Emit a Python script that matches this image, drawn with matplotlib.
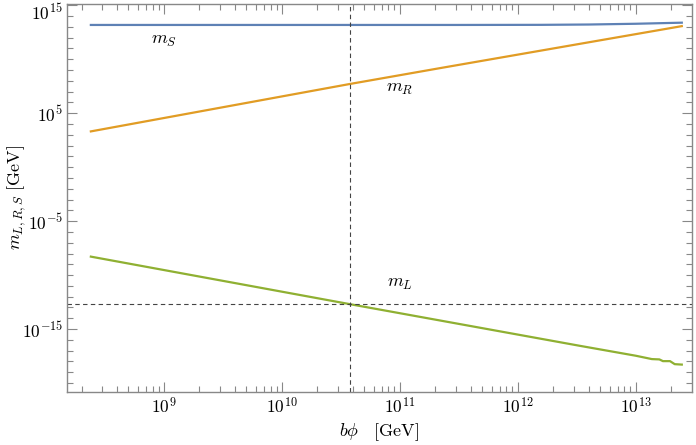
import numpy as np
import matplotlib.pyplot as plt
import matplotlib.transforms as mtransforms
from matplotlib.ticker import LogLocator, FixedLocator, NullFormatter

plt.rcParams['mathtext.fontset'] = 'cm'
plt.rcParams['font.family'] = 'serif'
plt.rcParams['font.serif'] = ['cmr10', 'DejaVu Serif']
plt.rcParams['axes.formatter.use_mathtext'] = True

# values (log10 of b*phi and of the masses)
log_bphi_S = [8.38, 11.5, 12.2, 12.6, 13.0, 13.39]
log_mS = [13.17, 13.17, 13.18, 13.21, 13.28, 13.38]

log_bphi_R = [8.38, 9.64, 10.58, 11.34, 13.39]
log_mR = [3.31, 5.83, 7.71, 9.17, 13.06]

log_bphi_L = [8.38, 10.58, 12.525, 13.0, 13.136, 13.20, 13.23, 13.29, 13.33, 13.39]
log_mL = [-8.29, -12.7, -16.55, -17.47, -17.78, -17.81, -17.97, -17.97, -18.25, -18.29]

bphi_ref = 10 ** 10.58   # vertical dashed line
mL_ref = 10 ** -12.7     # horizontal dashed line

blue = '#5E81B5'
orange = '#E19C24'
green = '#8FB032'
frame = '#888888'

fig = plt.figure(figsize=(6.96, 4.45), dpi=100)
ax = fig.add_axes([0.0963, 0.1198, 0.8977, 0.8712])

ax.plot(10 ** np.array(log_bphi_S), 10 ** np.array(log_mS), color=blue, lw=1.6)
ax.plot(10 ** np.array(log_bphi_R), 10 ** np.array(log_mR), color=orange, lw=1.6)
ax.plot(10 ** np.array(log_bphi_L), 10 ** np.array(log_mL), color=green, lw=1.6)

ax.axvline(bphi_ref, color='#444444', lw=0.8, ls=(0, (4, 3)))
ax.axhline(mL_ref, color='#444444', lw=0.8, ls=(0, (4, 3)))

ax.set_xscale('log')
ax.set_yscale('log')
ax.set_xlim(10 ** 8.178, 10 ** 13.475)
ax.set_ylim(10 ** -20.8, 10 ** 15.11)

ax.text(10 ** 9.0, 10 ** 11.69, r'$m_S$', fontsize=13, ha='center', va='center')
ax.text(10 ** 11.0, 10 ** 7.24, r'$m_R$', fontsize=13, ha='center', va='center')
ax.text(10 ** 11.0, 10 ** -10.83, r'$m_L$', fontsize=13, ha='center', va='center')

ax.xaxis.set_major_locator(FixedLocator([1e9, 1e10, 1e11, 1e12, 1e13]))
ax.xaxis.set_minor_locator(LogLocator(base=10, subs=np.arange(2, 10), numticks=20))
ax.xaxis.set_minor_formatter(NullFormatter())
ax.yaxis.set_major_locator(FixedLocator([1e-15, 1e-5, 1e5, 1e15]))
ax.yaxis.set_minor_locator(FixedLocator([10.0 ** k for k in range(-20, 16)]))
ax.yaxis.set_minor_formatter(NullFormatter())
ax.set_yticklabels([r'$10^{-15}$', r'$10^{-5}$', r'$10^{5}$', r'$10^{15}$'])
ax.set_xticklabels([r'$10^{9}$', r'$10^{10}$', r'$10^{11}$', r'$10^{12}$', r'$10^{13}$'])

ax.tick_params(which='both', direction='in', top=True, right=True,
               color=frame, labelsize=12.5, labelcolor='black', width=0.8)
ax.tick_params(which='major', length=7, pad=3)
ax.tick_params(which='minor', length=4)
for s in ax.spines.values():
    s.set_color(frame)
    s.set_linewidth(1.0)

# nudge the top label down so it stays inside the figure
top_lbl = ax.get_yticklabels()[-1]
top_lbl.set_transform(top_lbl.get_transform() +
                      mtransforms.ScaledTranslation(0, -4 / 72, fig.dpi_scale_trans))

ax.set_xlabel(r'$b\phi\ \ \ [\mathrm{GeV}]$', fontsize=13)
ax.set_ylabel(r'$m_{L,R,S}\ [\mathrm{GeV}]$', fontsize=13)
ax.xaxis.set_label_coords(0.5, -0.076)
ax.yaxis.set_label_coords(-0.063, 0.5)

fig.savefig('out.png', dpi=100)
